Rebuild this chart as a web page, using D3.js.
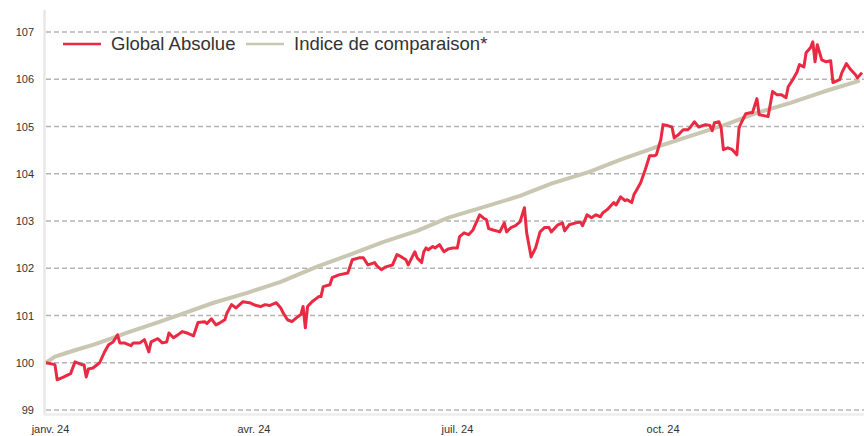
<!DOCTYPE html>
<meta charset="utf-8">
<style>
    body { margin: 0; background: #fff; }
    svg { display: block; font-family: "Liberation Sans", Arial, sans-serif; }
    .grid line { stroke: #b4b4b4; stroke-width: 1.5px; stroke-dasharray: 5,3; }
    .line { fill: none; stroke-linejoin: round; }
</style>
<svg width="864" height="436"></svg>
<script src="https://d3js.org/d3.v7.min.js"></script>
<script>

    // Global Absolue (base 100)
    var absDates = ["2024-01-01", "2024-01-05", "2024-01-06", "2024-01-09", "2024-01-12", "2024-01-14", "2024-01-17", "2024-01-18", "2024-01-19", "2024-01-20",
        "2024-01-22", "2024-01-25", "2024-01-27", "2024-01-29", "2024-01-31", "2024-02-02", "2024-02-03", "2024-02-05", "2024-02-08", "2024-02-09",
        "2024-02-12", "2024-02-14", "2024-02-16", "2024-02-17", "2024-02-20", "2024-02-22", "2024-02-24", "2024-02-25", "2024-02-27", "2024-02-29",
        "2024-03-02", "2024-03-04", "2024-03-07", "2024-03-09", "2024-03-12", "2024-03-13", "2024-03-15", "2024-03-17", "2024-03-19", "2024-03-21",
        "2024-03-22", "2024-03-24", "2024-03-26", "2024-03-29", "2024-04-01", "2024-04-04", "2024-04-06", "2024-04-08", "2024-04-10", "2024-04-13",
        "2024-04-15", "2024-04-16", "2024-04-18", "2024-04-20", "2024-04-22", "2024-04-24", "2024-04-25", "2024-04-26", "2024-04-27", "2024-04-29",
        "2024-05-02", "2024-05-03", "2024-05-04", "2024-05-07", "2024-05-08", "2024-05-11", "2024-05-15", "2024-05-17", "2024-05-20", "2024-05-22",
        "2024-05-24", "2024-05-27", "2024-05-28", "2024-05-30", "2024-06-01", "2024-06-04", "2024-06-06", "2024-06-08", "2024-06-10", "2024-06-11",
        "2024-06-14", "2024-06-15", "2024-06-17", "2024-06-18", "2024-06-19", "2024-06-20", "2024-06-22", "2024-06-23", "2024-06-25", "2024-06-27",
        "2024-06-29", "2024-07-01", "2024-07-03", "2024-07-04", "2024-07-06", "2024-07-08", "2024-07-10", "2024-07-13", "2024-07-15", "2024-07-16",
        "2024-07-17", "2024-07-19", "2024-07-22", "2024-07-24", "2024-07-25", "2024-07-27", "2024-07-29", "2024-07-31", "2024-08-02", "2024-08-03",
        "2024-08-05", "2024-08-07", "2024-08-09", "2024-08-11", "2024-08-13", "2024-08-14", "2024-08-17", "2024-08-19", "2024-08-20", "2024-08-22",
        "2024-08-25", "2024-08-27", "2024-08-28", "2024-08-30", "2024-09-01", "2024-09-03", "2024-09-05", "2024-09-06", "2024-09-08", "2024-09-11",
        "2024-09-12", "2024-09-14", "2024-09-16", "2024-09-17", "2024-09-19", "2024-09-20", "2024-09-21", "2024-09-23", "2024-09-25", "2024-09-27",
        "2024-09-29", "2024-09-30", "2024-10-02", "2024-10-03", "2024-10-05", "2024-10-07", "2024-10-08", "2024-10-10", "2024-10-12", "2024-10-14",
        "2024-10-15", "2024-10-17", "2024-10-19", "2024-10-22", "2024-10-24", "2024-10-25", "2024-10-26", "2024-10-28", "2024-10-29", "2024-10-30",
        "2024-11-01", "2024-11-03", "2024-11-05", "2024-11-06", "2024-11-07", "2024-11-09", "2024-11-11", "2024-11-12", "2024-11-14", "2024-11-15",
        "2024-11-17", "2024-11-19", "2024-11-21", "2024-11-23", "2024-11-25", "2024-11-27", "2024-11-28", "2024-11-30", "2024-12-02", "2024-12-03",
        "2024-12-05", "2024-12-06", "2024-12-08", "2024-12-09", "2024-12-10", "2024-12-11", "2024-12-13", "2024-12-15", "2024-12-17", "2024-12-18",
        "2024-12-21", "2024-12-22", "2024-12-24", "2024-12-26", "2024-12-28", "2024-12-29", "2024-12-31"];
    var absValues = [100.00, 99.96, 99.64, 99.70, 99.77, 100.02, 99.96, 99.96, 99.70, 99.87,
        99.89, 100.00, 100.21, 100.38, 100.44, 100.59, 100.42, 100.42, 100.36, 100.42,
        100.42, 100.49, 100.23, 100.44, 100.51, 100.42, 100.44, 100.63, 100.53, 100.59,
        100.66, 100.63, 100.57, 100.85, 100.87, 100.83, 100.93, 100.80, 100.85, 100.91,
        101.06, 101.23, 101.16, 101.29, 101.27, 101.21, 101.19, 101.23, 101.21, 101.27,
        101.16, 101.06, 100.91, 100.87, 100.95, 101.02, 101.19, 100.74, 101.19, 101.29,
        101.40, 101.40, 101.61, 101.65, 101.80, 101.86, 101.90, 102.18, 102.22, 102.22,
        102.07, 102.12, 102.05, 101.97, 102.03, 102.07, 102.29, 102.24, 102.18, 102.07,
        102.35, 102.22, 102.12, 102.35, 102.43, 102.39, 102.46, 102.43, 102.50, 102.35,
        102.41, 102.43, 102.43, 102.67, 102.75, 102.71, 102.81, 103.13, 103.05, 103.03,
        102.84, 102.81, 102.77, 102.96, 102.77, 102.86, 102.90, 102.98, 103.28, 102.75,
        102.24, 102.43, 102.77, 102.86, 102.86, 102.77, 102.92, 102.96, 102.79, 102.92,
        102.96, 102.98, 102.90, 103.13, 103.07, 103.13, 103.09, 103.17, 103.24, 103.39,
        103.34, 103.51, 103.43, 103.45, 103.39, 103.56, 103.64, 103.81, 104.08, 104.38,
        104.38, 104.40, 104.72, 105.04, 105.02, 104.99, 104.76, 104.83, 104.93, 104.93,
        104.97, 105.10, 104.99, 105.04, 105.02, 104.91, 105.08, 105.10, 104.97, 104.51,
        104.55, 104.51, 104.40, 104.97, 105.08, 105.27, 105.29, 105.29, 105.59, 105.25,
        105.23, 105.21, 105.74, 105.67, 105.67, 105.61, 105.84, 105.99, 106.16, 106.31,
        106.26, 106.56, 106.67, 106.79, 106.37, 106.73, 106.41, 106.37, 106.39, 105.93,
        105.99, 106.14, 106.33, 106.20, 106.10, 106.03, 106.14];

    // Indice de comparaison*
    var idxDates = ["2024-01-01", "2024-01-05", "2024-01-09", "2024-01-15", "2024-01-22", "2024-01-30", "2024-02-06", "2024-02-14", "2024-02-21", "2024-03-01",
        "2024-03-16", "2024-03-31", "2024-04-15", "2024-05-01", "2024-05-16", "2024-05-31", "2024-06-15", "2024-06-29", "2024-07-15", "2024-07-31",
        "2024-08-14", "2024-08-31", "2024-09-14", "2024-09-29", "2024-10-14", "2024-10-31", "2024-11-14", "2024-11-29", "2024-12-14", "2024-12-30"];
    var idxValues = [100.00, 100.13, 100.19, 100.28, 100.38, 100.51, 100.63, 100.76, 100.87, 101.02,
        101.27, 101.48, 101.71, 102.03, 102.29, 102.56, 102.79, 103.07, 103.30, 103.53,
        103.79, 104.04, 104.30, 104.55, 104.78, 105.04, 105.29, 105.50, 105.74, 105.97];

    var yTicks = [99, 100, 101, 102, 103, 104, 105, 106, 107];
    var xTicks = ["2024-01-01", "2024-04-01", "2024-07-01", "2024-10-01"];
    var xTickLabels = ["janv. 24", "avr. 24", "juil. 24", "oct. 24"];
    var seriesNames = ["Global Absolue", "Indice de comparaison*"];
    var seriesColors = ["#e92a42", "#c9c7b2"];

    var parseDate = d3.timeParse("%Y-%m-%d");

    var svg = d3.select("svg");

    var x = d3.scaleTime()
        .domain([parseDate("2024-01-01"), parseDate("2024-12-31")])
        .range([46, 862]);
    var y = d3.scaleLinear().domain([99, 107]).range([410, 32]);

    var absData = absDates.map(function (d, i) { return { date: parseDate(d), value: absValues[i] }; });
    var idxData = idxDates.map(function (d, i) { return { date: parseDate(d), value: idxValues[i] }; });

    // gridlines
    svg.append("g")
        .attr("class", "grid")
        .selectAll("line")
        .data(yTicks)
        .enter().append("line")
        .attr("x1", 46)
        .attr("x2", 864)
        .attr("y1", function (d) { return y(d); })
        .attr("y2", function (d) { return y(d); });

    // plot frame (left and bottom)
    svg.append("line")
        .attr("x1", 44.5).attr("x2", 44.5)
        .attr("y1", 10).attr("y2", 415)
        .attr("stroke", "#e8e8e8").attr("stroke-width", 2.5);
    svg.append("line")
        .attr("x1", 44).attr("x2", 864)
        .attr("y1", 414.5).attr("y2", 414.5)
        .attr("stroke", "#ececec").attr("stroke-width", 2.5);

    // y axis labels
    var yAxis = svg.append("g")
        .attr("transform", "translate(34,0)")
        .call(d3.axisLeft(y).tickValues(yTicks).tickSize(0).tickPadding(0).tickFormat(d3.format("d")));
    yAxis.select(".domain").remove();
    yAxis.selectAll("text")
        .attr("fill", "#333")
        .style("font-size", "11px")
        .style("font-family", "'Liberation Sans', Arial, sans-serif");

    // x axis labels
    var xAxis = svg.append("g")
        .attr("transform", "translate(4,425)")
        .call(d3.axisBottom(x)
            .tickValues(xTicks.map(parseDate))
            .tickSize(0)
            .tickPadding(0)
            .tickFormat(function (d, i) { return xTickLabels[i]; }));
    xAxis.select(".domain").remove();
    xAxis.selectAll("text")
        .attr("fill", "#333")
        .style("font-size", "11px")
        .style("font-family", "'Liberation Sans', Arial, sans-serif");

    var line = d3.line()
        .x(function (d) { return x(d.date); })
        .y(function (d) { return y(d.value); });

    svg.append("path")
        .datum(idxData)
        .attr("class", "line")
        .attr("stroke", seriesColors[1])
        .attr("stroke-width", 4)
        .attr("d", line);

    svg.append("path")
        .datum(absData)
        .attr("class", "line")
        .attr("stroke", seriesColors[0])
        .attr("stroke-width", 3)
        .attr("d", line);

    // legend
    var legendX = [63, 246];
    var legend = svg.selectAll(".legend")
        .data(seriesNames)
        .enter().append("g")
        .attr("class", "legend")
        .attr("transform", function (d, i) { return "translate(" + legendX[i] + ",44)"; });

    legend.append("line")
        .attr("x1", 0).attr("x2", 38)
        .attr("stroke", function (d, i) { return seriesColors[i]; })
        .attr("stroke-width", 2.5);

    legend.append("text")
        .attr("x", 48)
        .attr("dy", "0.35em")
        .attr("fill", "#333")
        .style("font-size", "18.5px")
        .text(function (d) { return d; });

</script>
